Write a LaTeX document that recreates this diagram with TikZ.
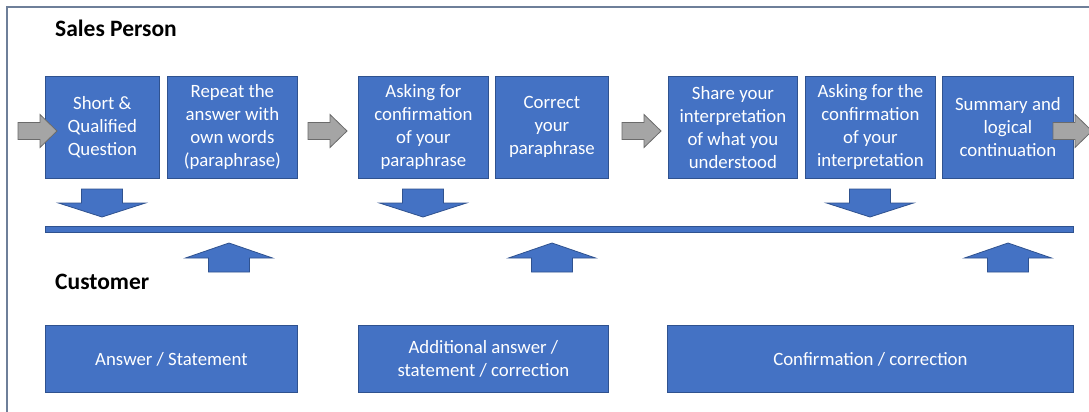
\documentclass[tikz,border=0pt]{standalone}
\usepackage{fontspec}
\setmainfont{Carlito}
\begin{document}
\begin{tikzpicture}[x=1pt,y=-1pt,
  box/.style={draw=boxedge, fill=boxblue, line width=0.8pt, text=white, inner sep=0pt,
    align=center, font=\fontsize{18.8}{23}\selectfont, anchor=north west, minimum height=102pt},
  lowbox/.style={box, minimum height=67pt},
  title/.style={font=\fontsize{23.5}{28}\selectfont\bfseries, anchor=west, inner sep=0pt},
  bluearr/.style={draw=boxedge, fill=boxblue, line width=0.8pt, line join=miter},
  grayarr/.style={draw=grayedge, fill=grayfill, line width=0.8pt, line join=miter},
  downarr/.pic={\path[bluearr] (-20.5,-28) -- (20.5,-28) -- (20.5,-14) -- (43.5,-14) -- (0,0) -- (-43.5,-14) -- (-20.5,-14) -- cycle;},
  uparr/.pic={\path[bluearr] (-20.5,29) -- (20.5,29) -- (20.5,15) -- (43.5,15) -- (0,0) -- (-43.5,15) -- (-20.5,15) -- cycle;},
  rightarr/.pic={\path[grayarr] (-39,-8.5) -- (-17,-8.5) -- (-17,-16.5) -- (0,0) -- (-17,16.5) -- (-17,8.5) -- (-39,8.5) -- cycle;}
]
\definecolor{boxblue}{HTML}{4472C4}
\definecolor{boxedge}{HTML}{2F528F}
\definecolor{grayfill}{HTML}{A5A5A5}
\definecolor{grayedge}{HTML}{6B6B6B}
\definecolor{frame}{HTML}{6E7F99}
\useasboundingbox (0,0) rectangle (1089,412);
\fill[white] (0,0) rectangle (1089,412);
% frame
\draw[frame, line width=1.5pt] (7,420) -- (7,7) -- (1095,7);
% titles
\node[title] (sp) at (55,28) {Sales Person};
\node[title] (cu) at (55,282) {Customer};
% top boxes
\node[box, minimum width=114pt] (b1) at (45,76) {Short \&\\Qualified\\Question};
\node[box, minimum width=130pt] (b2) at (167,76) {Repeat the\\answer with\\own words\\(paraphrase)};
\node[box, minimum width=130pt] (b3) at (358,76) {Asking for\\confirmation\\of your\\paraphrase};
\node[box, minimum width=113pt] (b4) at (495,76) {Correct\\your\\paraphrase};
\node[box, minimum width=129pt] (b5) at (668,76) {Share your\\interpretation\\of what you\\understood};
\node[box, minimum width=130pt] (b6) at (805,76) {Asking for the\\confirmation\\of your\\interpretation};
\node[box, minimum width=131pt] (b7) at (942,76) {Summary and\\logical\\continuation};
% gray arrows
\pic at (57,131) {rightarr};
\pic at (347,131) {rightarr};
\pic at (661,131) {rightarr};
\pic at (1092,131) {rightarr};
% down arrows
\pic at (102,217) {downarr};
\pic at (423,217) {downarr};
\pic at (870,217) {downarr};
% bar
\path[bluearr] (45,226) rectangle (1073,232);
% up arrows
\pic at (229,243) {uparr};
\pic at (552,243) {uparr};
\pic at (1008,243) {uparr};
% bottom boxes
\node[lowbox, minimum width=252pt] (c1) at (45,325) {Answer / Statement};
\node[lowbox, minimum width=250pt] (c2) at (358,325) {Additional answer /\\statement / correction};
\node[lowbox, minimum width=406pt] (c3) at (667,325) {Confirmation / correction};
\end{tikzpicture}
\end{document}
